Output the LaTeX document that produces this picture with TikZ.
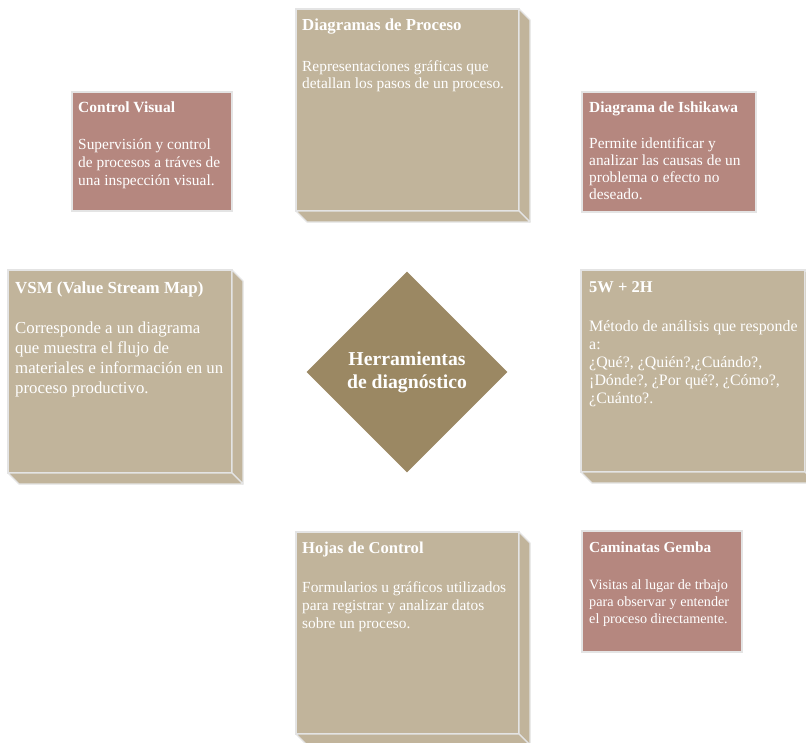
\documentclass[tikz,border=0pt]{standalone}
\usepackage{fontspec}
\setmainfont{Liberation Serif}
\usetikzlibrary{shapes.geometric}

\definecolor{tan}{HTML}{C1B49B}
\definecolor{rose}{HTML}{B5877F}
\definecolor{core}{HTML}{9B8863}
\definecolor{rim}{HTML}{E4E4E4}

% side and bottom faces of a raised card
\newcommand\extrude[1]{%
  \draw[slab] (#1.north east) -- ++(11,11) -- ([shift={(11,11)}]#1.south east)
              -- (#1.south east) -- cycle;
  \draw[slab] (#1.south west) -- ++(11,11) -- ([shift={(11,11)}]#1.south east)
              -- (#1.south east) -- cycle;}

\begin{document}
\begin{tikzpicture}[x=1pt,y=-1pt,
  card/.style={draw=rim, line width=1.2pt, anchor=north west, inner sep=0pt, outer sep=0pt},
  slab/.style={draw=rim, line width=1.2pt, fill=tan, line join=round},
  hdr/.style={anchor=base west, text=white, inner sep=0pt,
              font=\bfseries\fontsize{#1}{#1}\selectfont},
  % body texts are placed by the baseline of their last line
  txt/.style 2 args={anchor=base west, align=left, text=white, inner sep=0pt,
              font=\fontsize{#1}{#2}\selectfont},
]
\useasboundingbox (0,0) rectangle (806,742);
\clip (0,0) rectangle (806,742);

% central diamond
\node[diamond, fill=core, minimum width=201pt, minimum height=201pt, inner sep=0pt,
      align=center, text=white, font=\bfseries\fontsize{19.7}{23}\selectfont]
  (core) at (407,372) {Herramientas\\de diagnóstico};

% Diagramas de Proceso
\node[card, fill=tan, minimum width=223pt, minimum height=202pt] (proc) at (296,9) {};
\extrude{proc}
\node[hdr=16.8] (procT) at (302,30) {Diagramas de Proceso};
\node[txt={15.4}{17.6}] (procB) at (302,88.6)
  {Representaciones gráficas que\\detallan los pasos de un proceso.};

% Control Visual
\node[card, fill=rose, minimum width=160pt, minimum height=119pt] (cvis) at (72,92) {};
\node[hdr=15.5] (cvisT) at (78,112) {Control Visual};
\node[txt={15.4}{18}] (cvisB) at (78,185)
  {Supervisión y control\\de procesos a tráves de\\una inspección visual.};

% Diagrama de Ishikawa
\node[card, fill=rose, minimum width=174pt, minimum height=120pt] (ishi) at (582,92) {};
\node[hdr=15.4] (ishiT) at (589,112) {Diagrama de Ishikawa};
\node[txt={15.4}{17}] (ishiB) at (589,199)
  {Permite identificar y\\analizar las causas de un\\problema o efecto no\\deseado.};

% VSM
\node[card, fill=tan, minimum width=224pt, minimum height=203pt] (vsm) at (8,270) {};
\extrude{vsm}
\node[hdr=16.9] (vsmT) at (15,293) {VSM (Value Stream Map)};
\node[txt={16.8}{20}] (vsmB) at (15,393)
  {Corresponde a un diagrama\\que muestra el flujo de\\materiales e información en un\\proceso productivo.};

% 5W + 2H
\node[card, fill=tan, minimum width=224pt, minimum height=202pt] (wh) at (581,270) {};
\extrude{wh}
\node[hdr=16.5] (whT) at (589,292) {5W + 2H};
\node[txt={15.9}{18}] (whB) at (589,403)
  {Método de análisis que responde\\a:\\¿Qué?, ¿Quién?,¿Cuándo?,\\¡Dónde?, ¿Por qué?, ¿Cómo?,\\¿Cuánto?.};

% Hojas de Control
\node[card, fill=tan, minimum width=223pt, minimum height=202pt] (hoja) at (296,532) {};
\extrude{hoja}
\node[hdr=16.6] (hojaT) at (302,553) {Hojas de Control};
\node[txt={15.4}{18}] (hojaB) at (302,628)
  {Formularios u gráficos utilizados\\para registrar y analizar datos\\sobre un proceso.};

% Caminatas Gemba
\node[card, fill=rose, minimum width=160pt, minimum height=121pt] (gemba) at (582,531) {};
\node[hdr=15.3] (gembaT) at (589,552) {Caminatas Gemba};
\node[txt={14.2}{17}] (gembaB) at (589,623)
  {Visitas al lugar de trbajo\\para observar y entender\\el proceso directamente.};
\end{tikzpicture}
\end{document}
